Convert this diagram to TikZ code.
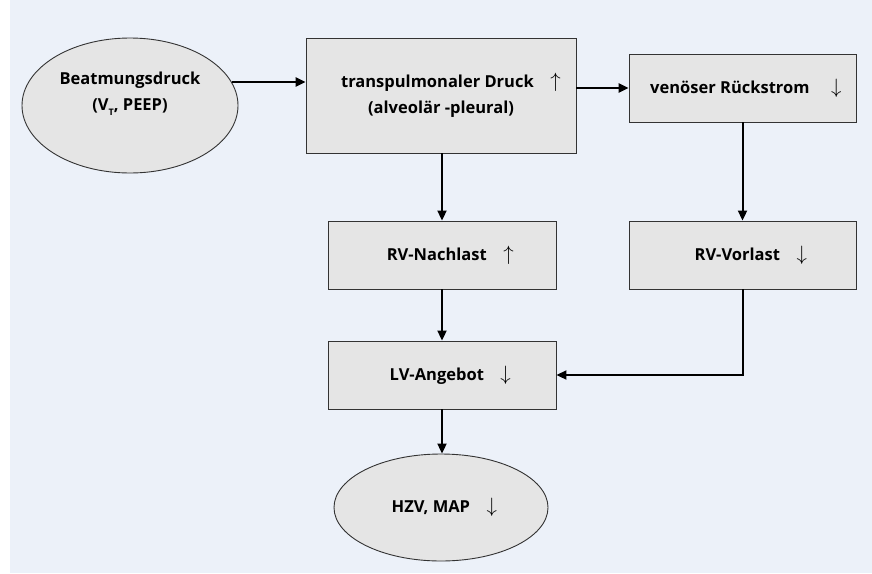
\documentclass[tikz,border=0pt]{standalone}
\usepackage{fontspec}
\setmainfont{Open Sans}
\usetikzlibrary{shapes.geometric,arrows.meta}
\definecolor{bgc}{HTML}{ECF1F9}
\definecolor{boxc}{HTML}{E5E5E5}
\definecolor{linec}{HTML}{333333}
\tikzset{
  tfont/.style={font=\fontsize{16.5}{26}\selectfont\bfseries},
  base/.style={fill=boxc,draw=linec,line width=0.9pt,inner sep=0pt,align=center,tfont},
  rbox/.style={base,rectangle,minimum width=228pt,minimum height=68pt},
  ell/.style={base,ellipse},
  arr/.style={-{Triangle[length=10pt,width=9pt]},line width=2pt,black},
  harr/.style={-{Triangle[length=10pt,width=9pt]},line width=2.4pt,black},
}
\newcommand{\arw}[1]{{\mdseries\fontsize{20}{20}\selectfont$#1$}}
\newcommand{\upa}{\hspace{1em}\arw{\uparrow}}
\newcommand{\dna}{\hspace{1em}\arw{\downarrow}}
\begin{document}
\begin{tikzpicture}[x=1pt,y=-1pt]
\useasboundingbox (0,0) rectangle (872,573);
\fill[bgc] (10,0) rectangle (872,573);
\node[ell,minimum width=216pt,minimum height=135pt,
  label={[tfont,align=center,yshift=12pt]center:Beatmungsdruck\\(V\raisebox{-0.5ex}{\fontsize{9}{9}\selectfont T}, PEEP)}]
  (e) at (130,105.5) {};
\node[rbox,minimum width=270pt,minimum height=115pt] (b1) at (441,95.5)
  {\hspace{1.2em}transpulmonaler Druck\upa\\(alveolär -pleural)};
\node[rbox,minimum width=227pt,minimum height=68pt] (b2) at (742.5,88)
  {\hspace{0.4em}venöser Rückstrom\hspace{1.3em}\arw{\downarrow}};
\node[rbox] (na) at (442,255) {\hspace{1em}RV-Nachlast\upa};
\node[rbox,minimum width=227pt] (vo) at (742.5,255) {\hspace{1em}RV-Vorlast\dna};
\node[rbox] (lv) at (442,375) {\hspace{1em}LV-Angebot\dna};
\node[ell,minimum width=214pt,minimum height=107pt] (hz) at (441,507.5) {\hspace{0.4em}HZV, MAP\dna};
\draw[harr] (e.13) -- (e.13 -| b1.west);
\draw[harr] (b2.west -| b1.east) -- (b2.west);
\draw[arr] (b1.south -| na.north) -- (na.north);
\draw[arr] (b2.south) -- (vo.north);
\draw[arr] (na.south) -- (lv.north);
\draw[arr] (vo.south) |- (lv.east);
\draw[arr] (lv.south) -- (lv.south |- hz.north);
\end{tikzpicture}
\end{document}
